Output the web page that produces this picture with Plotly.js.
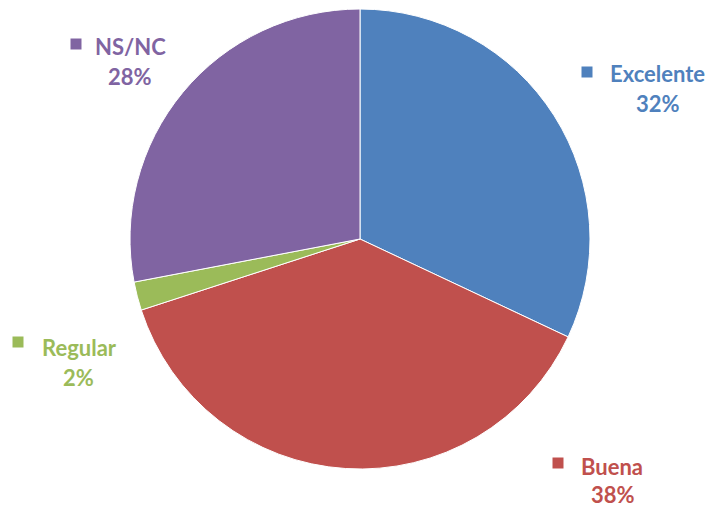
<!DOCTYPE html>
<html>
<head>
<meta charset="utf-8">
<script src="https://cdn.plot.ly/plotly-3.0.1.min.js"></script>
<style>html,body{margin:0;padding:0;background:#fff;}#chart{width:709px;height:507px;}</style>
</head>
<body>
<div id="chart"></div>
<script>
const categories = ["Excelente", "Buena", "Regular", "NS/NC"];
const values = [32, 38, 2, 28];
const colors = ["#4F81BD", "#C0504D", "#9BBB59", "#8064A2"];

// label placement (paper pixel coordinates from top-left): name centre, percent centre, square centre
const labelPos = [
  {nx: 657, ny: 74, px: 658, py: 103, sx: 587, sy: 72},
  {nx: 612, ny: 466, px: 613, py: 494, sx: 558, sy: 463},
  {nx: 79, ny: 347, px: 78, py: 377, sx: 18, sy: 342},
  {nx: 130, ny: 46, px: 130, py: 76, sx: 76, sy: 44}
];

const W = 709, H = 507;
const cx = 360, cy = 239, r = 230;

const font = "Lato, 'Open Sans', sans-serif";
const fsize = 22;
const annotations = [];
const shapes = [];
categories.forEach((c, i) => {
  const p = labelPos[i];
  annotations.push({
    xref: 'paper', yref: 'paper', x: p.nx / W, y: 1 - p.ny / H,
    xanchor: 'center', yanchor: 'middle', showarrow: false,
    text: '<b>' + c + '</b>', font: {family: font, size: fsize, color: colors[i]}
  });
  annotations.push({
    xref: 'paper', yref: 'paper', x: p.px / W, y: 1 - p.py / H,
    xanchor: 'center', yanchor: 'middle', showarrow: false,
    text: '<b>' + values[i] + '%</b>', font: {family: font, size: fsize, color: colors[i]}
  });
  shapes.push({
    type: 'rect', xref: 'paper', yref: 'paper',
    x0: (p.sx - 5.5) / W, x1: (p.sx + 5.5) / W,
    y0: 1 - (p.sy + 5.5) / H, y1: 1 - (p.sy - 5.5) / H,
    fillcolor: colors[i], line: {width: 0}
  });
});

const trace = {
  type: 'pie',
  labels: categories,
  values: values,
  sort: false,
  direction: 'clockwise',
  rotation: 0,
  textinfo: 'none',
  hoverinfo: 'label+percent',
  marker: {colors: colors, line: {color: '#ffffff', width: 1}},
  domain: {x: [(cx - r) / W, (cx + r) / W], y: [(H - cy - r) / H, (H - cy + r) / H]}
};

const layout = {
  width: W, height: H,
  margin: {l: 0, r: 0, t: 0, b: 0},
  showlegend: false,
  paper_bgcolor: '#ffffff',
  annotations: annotations,
  shapes: shapes
};

Plotly.newPlot('chart', [trace], layout, {displayModeBar: false, staticPlot: true});
</script>
</body>
</html>
